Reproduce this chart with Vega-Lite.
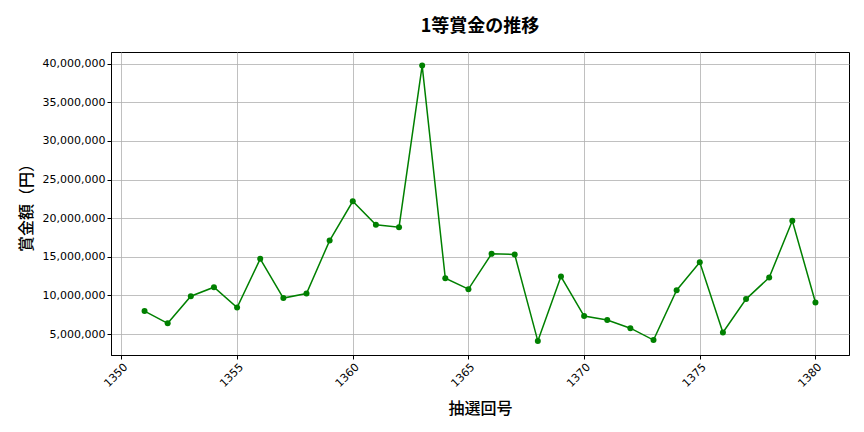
{
  "$schema": "https://vega.github.io/schema/vega-lite/v6.json",
  "autosize": "none",
  "width": 738,
  "height": 303,
  "padding": {"left": 111, "top": 52, "right": 15, "bottom": 77},
  "background": "white",
  "title": {"text": "1等賞金の推移", "font": "Noto Sans CJK JP", "fontSize": 18, "fontWeight": "bold", "color": "#000000", "anchor": "middle", "offset": 16},
  "config": {
    "view": {"stroke": "#000000", "strokeWidth": 1},
    "axis": {"labelFont": "DejaVu Sans", "titleFont": "Noto Sans CJK JP", "labelColor": "#000000", "titleColor": "#000000", "domainColor": "#000000", "tickColor": "#000000", "tickSize": 4, "gridColor": "#b0b0b0", "gridWidth": 0.8, "labelFontSize": 11, "titleFontSize": 16, "titleFontWeight": 500}
  },
  "data": {"values": [
    {"draw": 1351, "prize": 7980000},
    {"draw": 1352, "prize": 6400000},
    {"draw": 1353, "prize": 9910000},
    {"draw": 1354, "prize": 11070000},
    {"draw": 1355, "prize": 8450000},
    {"draw": 1356, "prize": 14740000},
    {"draw": 1357, "prize": 9660000},
    {"draw": 1358, "prize": 10260000},
    {"draw": 1359, "prize": 17100000},
    {"draw": 1360, "prize": 22190000},
    {"draw": 1361, "prize": 19140000},
    {"draw": 1362, "prize": 18840000},
    {"draw": 1363, "prize": 39740000},
    {"draw": 1364, "prize": 12230000},
    {"draw": 1365, "prize": 10820000},
    {"draw": 1366, "prize": 15390000},
    {"draw": 1367, "prize": 15300000},
    {"draw": 1368, "prize": 4100000},
    {"draw": 1369, "prize": 12450000},
    {"draw": 1370, "prize": 7340000},
    {"draw": 1371, "prize": 6820000},
    {"draw": 1372, "prize": 5770000},
    {"draw": 1373, "prize": 4230000},
    {"draw": 1374, "prize": 10690000},
    {"draw": 1375, "prize": 14290000},
    {"draw": 1376, "prize": 5210000},
    {"draw": 1377, "prize": 9530000},
    {"draw": 1378, "prize": 12320000},
    {"draw": 1379, "prize": 19660000},
    {"draw": 1380, "prize": 9100000}
  ]},
  "encoding": {
    "x": {"field": "draw", "type": "quantitative", "title": "抽選回号",
      "scale": {"domain": [1349.55, 1381.45], "nice": false, "zero": false},
      "axis": {"values": [1350, 1355, 1360, 1365, 1370, 1375, 1380], "format": "d", "labelAngle": -45, "labelAlign": "right", "labelBaseline": "top", "titlePadding": 12}},
    "y": {"field": "prize", "type": "quantitative", "title": "賞金額（円）",
      "scale": {"domain": [2300000, 41500000], "nice": false, "zero": false},
      "axis": {"values": [5000000, 10000000, 15000000, 20000000, 25000000, 30000000, 35000000, 40000000], "format": ",d", "titlePadding": 8}}
  },
  "layer": [
    {"mark": {"type": "line", "color": "#008000", "strokeWidth": 1.5}},
    {"mark": {"type": "point", "filled": true, "color": "#008000", "opacity": 1, "size": 36}}
  ]
}
